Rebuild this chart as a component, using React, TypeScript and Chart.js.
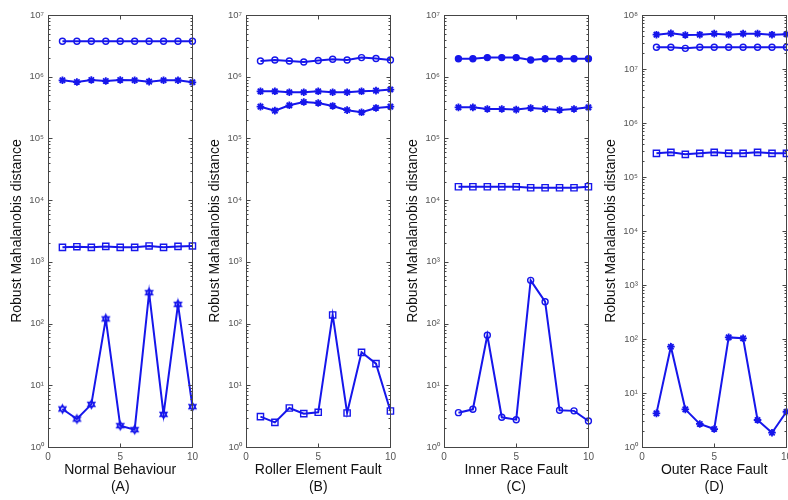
import React, { useEffect, useRef } from 'react';
import { Chart, registerables } from 'chart.js';
Chart.register(...registerables);

// ---------- data ----------
const xs = [1, 2, 3, 4, 5, 6, 7, 8, 9, 10];

// (A) Normal Behaviour
const aCircle = [3.76e6, 3.76e6, 3.76e6, 3.76e6, 3.76e6, 3.76e6, 3.76e6, 3.76e6, 3.76e6, 3.76e6];
const aStar = [8.75e5, 8.2e5, 8.86e5, 8.53e5, 8.86e5, 8.75e5, 8.32e5, 8.75e5, 8.75e5, 8.12e5];
const aSquare = [1.72e3, 1.76e3, 1.72e3, 1.78e3, 1.72e3, 1.72e3, 1.81e3, 1.72e3, 1.78e3, 1.81e3];
const aHex = [4.13, 2.84, 4.91, 119, 2.22, 1.91, 317, 3.38, 205, 4.5];

// (B) Roller Element Fault
const bCircle = [1.8e6, 1.87e6, 1.8e6, 1.73e6, 1.83e6, 1.92e6, 1.87e6, 2.04e6, 1.97e6, 1.87e6];
const bStar = [5.8e5, 5.8e5, 5.6e5, 5.6e5, 5.8e5, 5.6e5, 5.6e5, 5.8e5, 5.95e5, 6.2e5];
const bStar2 = [3.27e5, 2.82e5, 3.44e5, 3.9e5, 3.75e5, 3.36e5, 2.87e5, 2.65e5, 3.12e5, 3.27e5];
const bSquare = [3.1, 2.51, 4.29, 3.47, 3.65, 138, 3.56, 34.2, 22.4, 3.83];

// (C) Inner Race Fault
const cDot = [1.96e6, 1.96e6, 2.04e6, 2.04e6, 2.04e6, 1.87e6, 1.96e6, 1.96e6, 1.96e6, 1.96e6];
const cStar = [3.19e5, 3.19e5, 3.0e5, 3.0e5, 2.93e5, 3.11e5, 3.0e5, 2.89e5, 3.0e5, 3.19e5];
const cSquare = [1.65e4, 1.65e4, 1.65e4, 1.65e4, 1.65e4, 1.59e4, 1.59e4, 1.59e4, 1.59e4, 1.65e4];
const cCircle = [3.6, 4.08, 64.5, 3.03, 2.77, 502, 226, 3.93, 3.85, 2.64];

// (D) Outer Race Fault
const dStar = [4.32e7, 4.57e7, 4.26e7, 4.32e7, 4.51e7, 4.32e7, 4.51e7, 4.51e7, 4.32e7, 4.4e7];
const dCircle = [2.52e7, 2.52e7, 2.41e7, 2.52e7, 2.52e7, 2.52e7, 2.52e7, 2.52e7, 2.52e7, 2.52e7];
const dSquare = [2.74e5, 2.86e5, 2.63e5, 2.74e5, 2.86e5, 2.74e5, 2.74e5, 2.86e5, 2.74e5, 2.74e5];
const dStarLow = [4.2, 72, 4.98, 2.67, 2.15, 107, 103, 3.16, 1.84, 4.5];

const yTitle = 'Robust Mahalanobis distance';
const xTitles = [
  ['Normal Behaviour', '(A)'],
  ['Roller Element Fault', '(B)'],
  ['Inner Race Fault', '(C)'],
  ['Outer Race Fault', '(D)'],
];
const yMaxExps = [7, 7, 7, 8];
const xTickValues = [0, 5, 10];

type Marker = 'o' | 'of' | '*' | 's' | 'h';
const panelSeries: { data: number[]; marker: Marker }[][] = [
  [
    { data: aCircle, marker: 'o' },
    { data: aStar, marker: '*' },
    { data: aSquare, marker: 's' },
    { data: aHex, marker: 'h' },
  ],
  [
    { data: bCircle, marker: 'o' },
    { data: bStar, marker: '*' },
    { data: bStar2, marker: '*' },
    { data: bSquare, marker: 's' },
  ],
  [
    { data: cDot, marker: 'of' },
    { data: cStar, marker: '*' },
    { data: cSquare, marker: 's' },
    { data: cCircle, marker: 'o' },
  ],
  [
    { data: dStar, marker: '*' },
    { data: dCircle, marker: 'o' },
    { data: dSquare, marker: 's' },
    { data: dStarLow, marker: '*' },
  ],
];

// ---------- layout / style ----------
const PLOT_LEFTS = [48, 246, 444, 642];
const PLOT_W = 148;
const Y_AXIS_W = 48;
const CANVAS_W = Y_AXIS_W + PLOT_W + 6;
const H = 500;
const BLUE = 'rgb(22,22,235)';
const FONT = "'Liberation Sans', Arial, sans-serif";
const SUP = ['⁰', '¹', '²', '³', '⁴', '⁵', '⁶', '⁷', '⁸', '⁹'];

function hexagram(r: number, color: string, lw: number) {
  const s = Math.ceil(2 * r + lw * 2 + 2);
  const c = document.createElement('canvas');
  c.width = s;
  c.height = s;
  const g = c.getContext('2d')!;
  const cx = s / 2, cy = s / 2;
  g.strokeStyle = color;
  g.lineWidth = lw;
  for (const off of [-Math.PI / 2, Math.PI / 2]) {
    g.beginPath();
    for (let i = 0; i < 3; i++) {
      const t = off + (i * 2 * Math.PI) / 3;
      const px = cx + r * Math.cos(t), py = cy + r * Math.sin(t);
      if (i) g.lineTo(px, py);
      else g.moveTo(px, py);
    }
    g.closePath();
    g.stroke();
  }
  return c;
}

function markerProps(m: Marker, hex: HTMLCanvasElement) {
  switch (m) {
    case 'o':
      return { pointStyle: 'circle', pointRadius: 3, pointBackgroundColor: 'rgba(0,0,0,0)', pointBorderWidth: 1.4 };
    case 'of':
      return { pointStyle: 'circle', pointRadius: 3, pointBackgroundColor: BLUE, pointBorderWidth: 1.4 };
    case '*':
      return { pointStyle: 'star', pointRadius: 3.8, pointBackgroundColor: BLUE, pointBorderWidth: 1.8 };
    case 's':
      return { pointStyle: 'rect', pointRadius: 4.4, pointBackgroundColor: 'rgba(0,0,0,0)', pointBorderWidth: 1.4 };
    case 'h':
      return { pointStyle: hex, pointRadius: 4 };
  }
}

const boxPlugin = {
  id: 'matlabBox',
  afterDraw(chart: any) {
    const { ctx, chartArea: a, scales } = chart;
    const x = scales.x, y = scales.y;
    ctx.save();
    ctx.strokeStyle = '#454545';
    ctx.lineWidth = 1;
    const L = Math.round(a.left) + 0.5, R = Math.round(a.right) + 0.5;
    const T = Math.round(a.top) + 0.5, B = Math.round(a.bottom) + 0.5;
    ctx.strokeRect(L, T, R - L, B - T);
    ctx.beginPath();
    const maxE = Math.round(Math.log10(y.max));
    for (let e = 0; e <= maxE; e++) {
      const py = Math.round(y.getPixelForValue(Math.pow(10, e))) + 0.5;
      ctx.moveTo(L, py); ctx.lineTo(L + 4, py);
      ctx.moveTo(R, py); ctx.lineTo(R - 4, py);
      if (e < maxE) {
        for (let k = 2; k <= 9; k++) {
          const q = Math.round(y.getPixelForValue(k * Math.pow(10, e))) + 0.5;
          ctx.moveTo(L, q); ctx.lineTo(L + 2, q);
          ctx.moveTo(R, q); ctx.lineTo(R - 2, q);
        }
      }
    }
    for (const v of xTickValues) {
      const px = Math.round(x.getPixelForValue(v)) + 0.5;
      ctx.moveTo(px, B); ctx.lineTo(px, B - 4);
      ctx.moveTo(px, T); ctx.lineTo(px, T + 4);
    }
    ctx.stroke();
    ctx.restore();
  },
};

function Panel({ idx }: { idx: number }) {
  const ref = useRef<HTMLCanvasElement>(null);
  useEffect(() => {
    const hex = hexagram(4, BLUE, 1.4);
    const maxE = yMaxExps[idx];
    const chart = new Chart(ref.current!, {
      type: 'scatter',
      data: {
        datasets: panelSeries[idx].map((s) => ({
          data: xs.map((x, i) => ({ x, y: s.data[i] })),
          showLine: true,
          borderColor: BLUE,
          borderWidth: 2,
          pointBorderColor: BLUE,
          clip: false,
          ...(markerProps(s.marker, hex) as any),
        })),
      },
      options: {
        animation: false,
        responsive: false,
        events: [],
        layout: { padding: { top: 15, right: CANVAS_W - Y_AXIS_W - PLOT_W, bottom: 0, left: 0 } },
        plugins: { legend: { display: false }, tooltip: { enabled: false } },
        scales: {
          x: {
            type: 'linear',
            position: 'bottom',
            min: 0,
            max: 10,
            grid: { display: false, drawTicks: false },
            border: { display: false },
            afterBuildTicks: (s: any) => {
              s.ticks = xTickValues.map((v) => ({ value: v }));
            },
            ticks: { padding: 4, maxRotation: 0, color: '#555', font: { size: 10, family: FONT } },
            title: {
              display: true,
              text: xTitles[idx],
              color: '#111',
              font: { size: 14, family: FONT, lineHeight: 1.2 },
              padding: { top: 0, bottom: 4.5 },
            },
            afterFit: (s: any) => {
              s.height = 53;
            },
          },
          y: {
            type: 'logarithmic',
            position: 'left',
            min: 1,
            max: Math.pow(10, maxE),
            grid: { display: false, drawTicks: false },
            border: { display: false },
            afterBuildTicks: (s: any) => {
              const t = [];
              for (let e = 0; e <= maxE; e++) t.push({ value: Math.pow(10, e), major: true });
              s.ticks = t;
            },
            ticks: {
              autoSkip: false,
              padding: 4,
              color: '#555',
              font: { size: 9.5, family: FONT },
              callback: (v: any) => '10' + SUP[Math.round(Math.log10(Number(v)))],
            },
            title: {
              display: true,
              text: yTitle,
              color: '#111',
              font: { size: 14, family: FONT, lineHeight: 1.2 },
              padding: { top: 9, bottom: 0 },
            },
            afterFit: (s: any) => {
              s.width = Y_AXIS_W;
            },
          },
        },
      } as any,
      plugins: [boxPlugin],
    });
    return () => chart.destroy();
  }, [idx]);
  return (
    <canvas
      ref={ref}
      width={CANVAS_W}
      height={H}
      style={{ position: 'absolute', left: PLOT_LEFTS[idx] - Y_AXIS_W, top: 0, width: CANVAS_W, height: H }}
    />
  );
}

export default function App() {
  return (
    <div
      style={{
        position: 'absolute',
        left: 0,
        top: 0,
        width: 788,
        height: 500,
        overflow: 'hidden',
        background: '#fff',
      }}
    >
      {[0, 1, 2, 3].map((i) => (
        <Panel key={i} idx={i} />
      ))}
    </div>
  );
}
